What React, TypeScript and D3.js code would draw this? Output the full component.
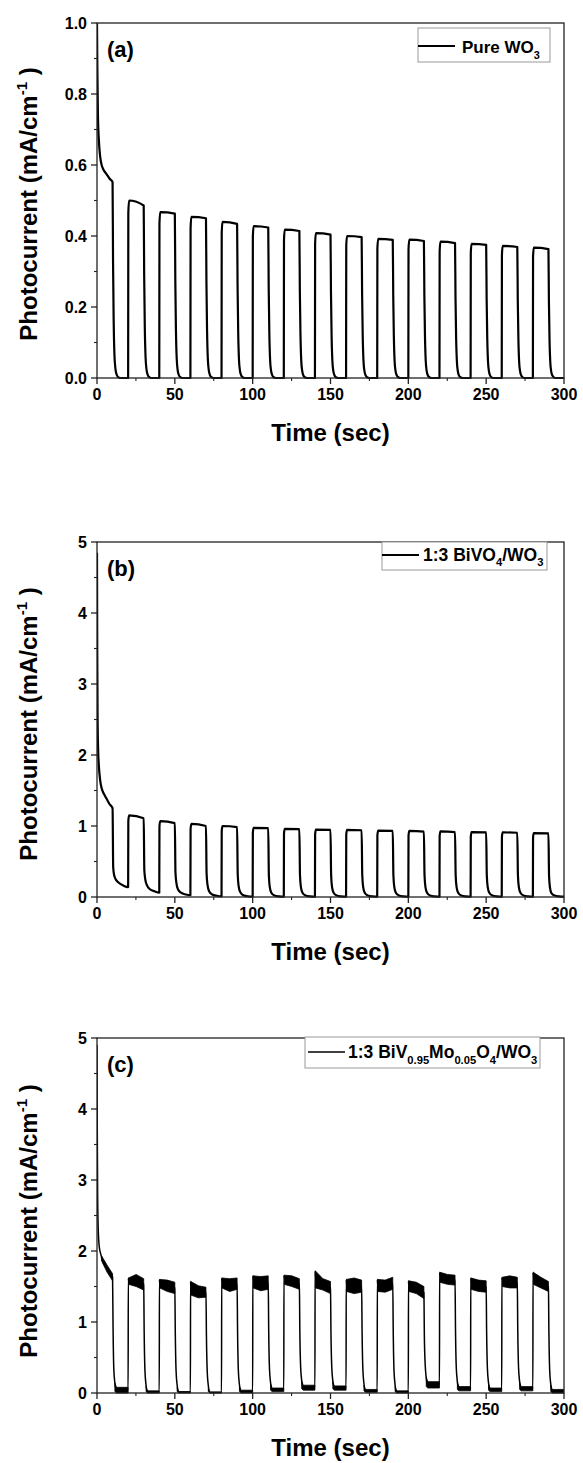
import React from "react";
import * as d3 from "d3";

// ---------- shared ----------
const cycleOn = [0, 20, 40, 60, 80, 100, 120, 140, 160, 180, 200, 220, 240, 260, 280];
const xTicks = [0, 50, 100, 150, 200, 250, 300];
const xMinor = [25, 75, 125, 175, 225, 275];
const yTicksA = [0, 0.2, 0.4, 0.6, 0.8, 1.0];
const yMinorA = [0.1, 0.3, 0.5, 0.7, 0.9];
const yTicksBC = [0, 1, 2, 3, 4, 5];
const yMinorBC = [0.5, 1.5, 2.5, 3.5, 4.5];

// ---------- panel (a) Pure WO3 ----------
const aInitT = [0, 0.2, 0.6, 1.2, 2, 3, 4, 6, 8, 10];
const aInitV = [1.0, 0.88, 0.74, 0.67, 0.625, 0.6, 0.588, 0.575, 0.562, 0.552];
const aOnStart = [1.0, 0.5, 0.467, 0.454, 0.44, 0.428, 0.418, 0.408, 0.4, 0.392, 0.39, 0.384, 0.378, 0.372, 0.367];
const aOnEnd = [0.552, 0.486, 0.463, 0.45, 0.434, 0.424, 0.414, 0.404, 0.397, 0.389, 0.386, 0.38, 0.375, 0.369, 0.363];
const aOffT = [0, 0.3, 0.7, 1.2, 1.8, 2.5, 3.5, 5];
const aOffFrac = [1, 0.6, 0.3, 0.12, 0.05, 0.02, 0.005, 0];

// ---------- panel (b) 1:3 BiVO4/WO3 ----------
const bInitT = [0, 0.15, 0.35, 0.7, 1.2, 2, 3, 4.5, 6, 8, 10];
const bInitV = [4.85, 3.5, 2.6, 2.1, 1.85, 1.65, 1.53, 1.45, 1.39, 1.31, 1.25];
const bOnStart = [4.85, 1.15, 1.07, 1.03, 1.0, 0.975, 0.96, 0.95, 0.945, 0.935, 0.93, 0.925, 0.915, 0.91, 0.9];
const bOnEnd = [1.25, 1.11, 1.04, 1.0, 0.985, 0.97, 0.955, 0.945, 0.94, 0.93, 0.92, 0.915, 0.91, 0.905, 0.895];
const bOffT = [0.4, 1, 2, 4, 7, 10];
const bOffV = [
  [0.42, 0.31, 0.25, 0.2, 0.16, 0.14],
  [0.38, 0.25, 0.17, 0.11, 0.08, 0.06],
  [0.35, 0.2, 0.11, 0.06, 0.035, 0.025],
  [0.33, 0.17, 0.08, 0.035, 0.018, 0.01],
  [0.32, 0.15, 0.07, 0.025, 0.01, 0.006],
  [0.31, 0.14, 0.06, 0.02, 0.008, 0.004],
  [0.31, 0.14, 0.06, 0.02, 0.008, 0.004],
  [0.31, 0.14, 0.06, 0.02, 0.008, 0.004],
  [0.31, 0.14, 0.06, 0.02, 0.008, 0.004],
  [0.31, 0.14, 0.06, 0.02, 0.008, 0.004],
  [0.31, 0.14, 0.06, 0.02, 0.008, 0.004],
  [0.31, 0.14, 0.06, 0.02, 0.008, 0.004],
  [0.31, 0.14, 0.06, 0.02, 0.008, 0.004],
  [0.31, 0.14, 0.06, 0.02, 0.008, 0.004],
  [0.3, 0.13, 0.05, 0.02, 0.008, 0.004],
];

// ---------- panel (c) 1:3 BiV0.95Mo0.05O4/WO3 ----------
const cInitT = [0, 0.15, 0.4, 0.8, 1.5, 2.5, 3];
const cInitV = [4.9, 3.8, 2.8, 2.3, 2.05, 1.95, 1.9];
// upper / lower envelope of the noisy plateau at start, middle, end of each light-on period
const cUpS = [1.93, 1.62, 1.6, 1.57, 1.62, 1.65, 1.66, 1.72, 1.6, 1.6, 1.58, 1.7, 1.62, 1.63, 1.7];
const cUpM = [1.8, 1.67, 1.59, 1.51, 1.61, 1.64, 1.65, 1.61, 1.62, 1.59, 1.56, 1.67, 1.59, 1.65, 1.63];
const cUpE = [1.68, 1.61, 1.56, 1.49, 1.62, 1.65, 1.61, 1.57, 1.59, 1.63, 1.5, 1.66, 1.58, 1.63, 1.57];
const cLoS = [1.86, 1.53, 1.48, 1.38, 1.48, 1.48, 1.53, 1.48, 1.43, 1.43, 1.43, 1.56, 1.46, 1.5, 1.53];
const cLoM = [1.7, 1.5, 1.43, 1.34, 1.43, 1.44, 1.5, 1.45, 1.4, 1.42, 1.4, 1.53, 1.43, 1.48, 1.48];
const cLoE = [1.58, 1.45, 1.4, 1.35, 1.46, 1.46, 1.46, 1.4, 1.42, 1.46, 1.33, 1.52, 1.42, 1.48, 1.43];
// dark-current band after each light-off
const cFloorHi = [0.08, 0.03, 0.02, 0.015, 0.04, 0.07, 0.11, 0.1, 0.05, 0.03, 0.16, 0.09, 0.07, 0.09, 0.05];
const cFloorLo = [0.0, 0.0, 0.0, 0.0, 0.0, 0.02, 0.04, 0.04, 0.01, 0.0, 0.07, 0.03, 0.02, 0.03, 0.0];

// ---------- legend texts ----------
const legendA = [{ t: "Pure WO" }, { t: "3", sub: true }];
const legendB = [{ t: "1:3 BiVO" }, { t: "4", sub: true }, { t: "/WO" }, { t: "3", sub: true }];
const legendC = [
  { t: "1:3 BiV" },
  { t: "0.95", sub: true },
  { t: "Mo" },
  { t: "0.05", sub: true },
  { t: "O" },
  { t: "4", sub: true },
  { t: "/WO" },
  { t: "3", sub: true },
];

// ---------- layout ----------
const W = 583;
const H = 1463;
const X0 = 97;
const X1 = 564;
const FONT = "'Liberation Sans', Arial, Helvetica, sans-serif";

type P = [number, number];
type Seg = { t: string; sub?: boolean };

function RichText({ segs, x, y, size, subDy }: { segs: Seg[]; x: number; y: number; size: number; subDy: number }) {
  let cur = 0;
  return (
    <text x={x} y={y} fontFamily={FONT} fontWeight="bold" fontSize={size}>
      {segs.map((s, i) => {
        const target = s.sub ? subDy : 0;
        const dy = target - cur;
        cur = target;
        return (
          <tspan key={i} dy={dy} fontSize={s.sub ? size * 0.64 : size}>
            {s.t}
          </tspan>
        );
      })}
    </text>
  );
}

function buildA(): P[] {
  const pts: P[] = [];
  cycleOn.forEach((t0, i) => {
    if (i === 0) {
      aInitT.forEach((t, k) => pts.push([t, aInitV[k]]));
    } else {
      pts.push([t0, 0]);
      pts.push([t0 + 0.12, aOnStart[i] * 0.93]);
      pts.push([t0 + 0.6, aOnStart[i]]);
      pts.push([t0 + 10, aOnEnd[i]]);
    }
    aOffT.slice(1).forEach((o, k) => pts.push([t0 + 10 + o, aOnEnd[i] * aOffFrac[k + 1]]));
    pts.push([Math.min(t0 + 19.9, 300), 0]);
  });
  return pts;
}

function buildB(): P[] {
  const pts: P[] = [];
  cycleOn.forEach((t0, i) => {
    if (i === 0) {
      bInitT.forEach((t, k) => pts.push([t, bInitV[k]]));
    } else {
      const prev = bOffV[i - 1][bOffV[i - 1].length - 1];
      pts.push([t0, prev]);
      pts.push([t0 + 0.12, bOnStart[i] * 0.93]);
      pts.push([t0 + 0.6, bOnStart[i]]);
      pts.push([t0 + 10, bOnEnd[i]]);
    }
    bOffT.forEach((o, k) => pts.push([Math.min(t0 + 10 + o, 300), bOffV[i][k]]));
  });
  return pts;
}

type BandPt = { t: number; up: number; lo: number };

function buildC(): { line: P[]; bands: BandPt[][] } {
  const pts: P[] = [];
  const bands: BandPt[][] = [];
  cycleOn.forEach((t0, i) => {
    const s = i === 0 ? 3 : 0.3;
    if (i === 0) {
      cInitT.forEach((t, k) => pts.push([t, cInitV[k]]));
    } else {
      pts.push([t0, (cFloorHi[i - 1] + cFloorLo[i - 1]) / 2]);
      pts.push([t0 + 0.1, cUpS[i]]);
    }
    pts.push([t0 + s, (cUpS[i] + cLoS[i]) / 2]);
    pts.push([t0 + (s + 10) / 2, (cUpM[i] + cLoM[i]) / 2]);
    pts.push([t0 + 10, (cUpE[i] + cLoE[i]) / 2]);
    const fm = (cFloorHi[i] + cFloorLo[i]) / 2;
    pts.push([t0 + 10.3, cLoE[i] * 0.6]);
    pts.push([t0 + 10.8, 0.3 + fm]);
    pts.push([t0 + 11.5, 0.1 + fm]);
    pts.push([t0 + 12.5, fm]);
    pts.push([Math.min(t0 + 19.9, 300), fm]);
    bands.push([
      { t: t0 + s, up: cUpS[i], lo: cLoS[i] },
      { t: t0 + (s + 10) / 2, up: cUpM[i], lo: cLoM[i] },
      { t: t0 + 10, up: cUpE[i], lo: cLoE[i] },
    ]);
    bands.push([
      { t: t0 + 11.5, up: cFloorHi[i] + 0.06, lo: cFloorLo[i] + 0.02 },
      { t: t0 + 12.5, up: cFloorHi[i], lo: cFloorLo[i] },
      { t: Math.min(t0 + 20, 300), up: cFloorHi[i], lo: cFloorLo[i] },
    ]);
  });
  return { line: pts, bands };
}

type PanelProps = {
  top: number;
  bottom: number;
  yMax: number;
  yTicks: number[];
  yMinor: number[];
  yFmt: (v: number) => string;
  label: string;
  titleCy: number;
  children: (x: d3.ScaleLinear<number, number>, y: d3.ScaleLinear<number, number>) => React.ReactNode;
  legend: React.ReactNode;
};

function Panel({ top, bottom, yMax, yTicks, yMinor, yFmt, label, titleCy, children, legend }: PanelProps) {
  const x = d3.scaleLinear().domain([0, 300]).range([X0, X1]);
  const y = d3.scaleLinear().domain([0, yMax]).range([bottom, top]);
  return (
    <g>
      <defs>
        <clipPath id={`clip-${label}`}>
          <rect x={X0} y={top - 2} width={X1 - X0} height={bottom - top + 3} />
        </clipPath>
      </defs>
      <g clipPath={`url(#clip-${label})`}>{children(x, y)}</g>
      <rect x={X0} y={top} width={X1 - X0} height={bottom - top} fill="none" stroke="#222" strokeWidth={1.3} />
      {yTicks.map((v) => (
        <g key={"yt" + v}>
          <line x1={X0 - 6} x2={X0} y1={y(v)} y2={y(v)} stroke="#222" strokeWidth={1.3} />
          <text x={X0 - 10} y={y(v) + 5.5} textAnchor="end" fontFamily={FONT} fontWeight="bold" fontSize={16}>
            {yFmt(v)}
          </text>
        </g>
      ))}
      {yMinor.map((v) => (
        <line key={"ym" + v} x1={X0 - 3} x2={X0} y1={y(v)} y2={y(v)} stroke="#222" strokeWidth={1.1} />
      ))}
      {xTicks.map((v) => (
        <g key={"xt" + v}>
          <line x1={x(v)} x2={x(v)} y1={bottom} y2={bottom + 6} stroke="#222" strokeWidth={1.3} />
          <text x={x(v)} y={bottom + 22} textAnchor="middle" fontFamily={FONT} fontWeight="bold" fontSize={16}>
            {v}
          </text>
        </g>
      ))}
      {xMinor.map((v) => (
        <line key={"xm" + v} x1={x(v)} x2={x(v)} y1={bottom} y2={bottom + 3} stroke="#222" strokeWidth={1.1} />
      ))}
      <text x={(X0 + X1) / 2} y={bottom + 63} textAnchor="middle" fontFamily={FONT} fontWeight="bold" fontSize={24}>
        Time (sec)
      </text>
      <text
        transform={`translate(37,${titleCy}) rotate(-90)`}
        textAnchor="middle"
        fontFamily={FONT}
        fontWeight="bold"
        fontSize={24}
      >
        <tspan>Photocurrent (mA/cm</tspan>
        <tspan dy={-10} fontSize={15}>
          -1
        </tspan>
        <tspan dy={10}> )</tspan>
      </text>
      <text x={107} y={top + 34} fontFamily={FONT} fontWeight="bold" fontSize={22}>
        ({label})
      </text>
      {legend}
    </g>
  );
}

export default function App() {
  const aPts = buildA();
  const bPts = buildB();
  const cData = buildC();

  return (
    <svg width={W} height={H} style={{ position: "absolute", left: 0, top: 0, background: "#fff" }}>
      <rect x={0} y={0} width={W} height={H} fill="#fff" />
      <Panel
        top={23}
        bottom={378}
        yMax={1.0}
        yTicks={yTicksA}
        yMinor={yMinorA}
        yFmt={(v) => v.toFixed(1)}
        label="a"
        titleCy={204}
        legend={
          <g>
            <rect x={418} y={28} width={132} height={34} fill="#fff" stroke="#999" strokeWidth={1} />
            <line x1={418} x2={455} y1={46} y2={46} stroke="#000" strokeWidth={2} />
            <RichText segs={legendA} x={462} y={53} size={17} subDy={6} />
          </g>
        }
      >
        {(x, y) => {
          const ln = d3
            .line<P>()
            .x((d) => x(d[0]))
            .y((d) => y(d[1]))
            .curve(d3.curveMonotoneX);
          return <path d={ln(aPts) || ""} fill="none" stroke="#000" strokeWidth={2.2} strokeLinejoin="round" />;
        }}
      </Panel>

      <Panel
        top={542}
        bottom={897}
        yMax={5}
        yTicks={yTicksBC}
        yMinor={yMinorBC}
        yFmt={(v) => String(v)}
        label="b"
        titleCy={724}
        legend={
          <g>
            <rect x={382} y={542} width={165} height={28} fill="#fff" stroke="#999" strokeWidth={1} />
            <line x1={382} x2={419} y1={555} y2={555} stroke="#000" strokeWidth={2.2} />
            <RichText segs={legendB} x={423} y={561} size={17.5} subDy={5} />
          </g>
        }
      >
        {(x, y) => {
          const ln = d3
            .line<P>()
            .x((d) => x(d[0]))
            .y((d) => y(d[1]))
            .curve(d3.curveMonotoneX);
          return <path d={ln(bPts) || ""} fill="none" stroke="#000" strokeWidth={2.2} strokeLinejoin="round" />;
        }}
      </Panel>

      <Panel
        top={1038}
        bottom={1393}
        yMax={5}
        yTicks={yTicksBC}
        yMinor={yMinorBC}
        yFmt={(v) => String(v)}
        label="c"
        titleCy={1221}
        legend={
          <g>
            <rect x={305} y={1037} width={235} height={31} fill="#fff" stroke="#999" strokeWidth={1} />
            <line x1={308} x2={345} y1={1052} y2={1052} stroke="#000" strokeWidth={1.3} />
            <RichText segs={legendC} x={348} y={1058} size={17.5} subDy={6} />
          </g>
        }
      >
        {(x, y) => {
          const ln = d3
            .line<P>()
            .x((d) => x(d[0]))
            .y((d) => y(d[1]))
            .curve(d3.curveMonotoneX);
          const ar = d3
            .area<BandPt>()
            .x((d) => x(d.t))
            .y0((d) => y(d.lo))
            .y1((d) => y(d.up))
            .curve(d3.curveLinear);
          return (
            <g>
              {cData.bands.map((b, i) => (
                <path key={i} d={ar(b) || ""} fill="#000" stroke="#000" strokeWidth={0.8} />
              ))}
              <path d={ln(cData.line) || ""} fill="none" stroke="#000" strokeWidth={1.5} strokeLinejoin="round" />
            </g>
          );
        }}
      </Panel>
    </svg>
  );
}
